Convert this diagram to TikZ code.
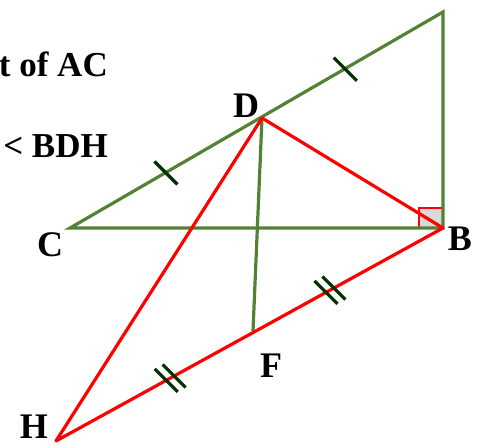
\documentclass[tikz,border=0pt]{standalone}
\usepackage{fontspec}
\setmainfont{Liberation Serif}
\usetikzlibrary{calc}
\definecolor{grn}{RGB}{84,130,53}
\definecolor{tickgrn}{RGB}{0,51,0}
\definecolor{rgtfill}{RGB}{217,217,217}
\begin{document}
\begin{tikzpicture}[x=1pt,y=-1pt,
  gline/.style={draw=grn,line width=3.2pt},
  rline/.style={draw=red,line width=3.2pt,line join=round},
  tickmark/.style={draw=tickgrn,line width=3.2pt},
  lbl/.style={font=\fontsize{36}{36}\selectfont\bfseries,inner sep=0pt},
  txt/.style={font=\fontsize{35}{35}\selectfont\bfseries,inner sep=0pt}]
\useasboundingbox (0,0) rectangle (485,446);
\coordinate (A) at (443,12);
\coordinate (B) at (443,228);
\coordinate (C) at (70,228);
\coordinate (D) at (262,118);
\coordinate (F) at (253,331);
\coordinate (H) at (56,441);
% right angle mark
\draw[draw=red,line width=1.4pt,fill=rgtfill] (B) rectangle ++(-24,-20);
% green triangle and DF
\draw[gline,line join=miter] (C) -- (A) -- (B) -- cycle;
\draw[gline] (D) -- (F);
% red lines
\draw[rline] (H) -- (D) -- (B) -- cycle;
% ticks
\coordinate (t1) at ($(C)!0.5!(D)$);
\coordinate (t2) at ($(D)!0.46!(A)$);
\draw[tickmark] ($(t1)+(-11.5,-11.5)$) -- ($(t1)+(11.5,11.5)$);
\draw[tickmark] ($(t2)+(-11.5,-11.5)$) -- ($(t2)+(11.5,11.5)$);
\coordinate (d1) at ($(H)!0.295!(B)$);
\coordinate (d2) at ($(H)!0.708!(B)$);
\foreach \p in {d1,d2}{
  \draw[tickmark] ($(\p)+(-3.9,2.2)+(-11.5,-11.5)$) -- ($(\p)+(-3.9,2.2)+(11.5,11.5)$);
  \draw[tickmark] ($(\p)+(3.9,-2.2)+(-11.5,-11.5)$) -- ($(\p)+(3.9,-2.2)+(11.5,11.5)$);
}
% labels
\node[lbl] (lD) at (246,106) {D};
\node[lbl] (lC) at (50,245) {C};
\node[lbl] (lB) at (460,239) {B};
\node[lbl] (lF) at (271,366) {F};
\node[lbl] (lH) at (34,427) {H};
\node[txt,anchor=base east] (t1txt) at (108,77) {t of AC};
\node[txt,anchor=base east] (t2txt) at (108,158) {< BDH};
\end{tikzpicture}
\end{document}
